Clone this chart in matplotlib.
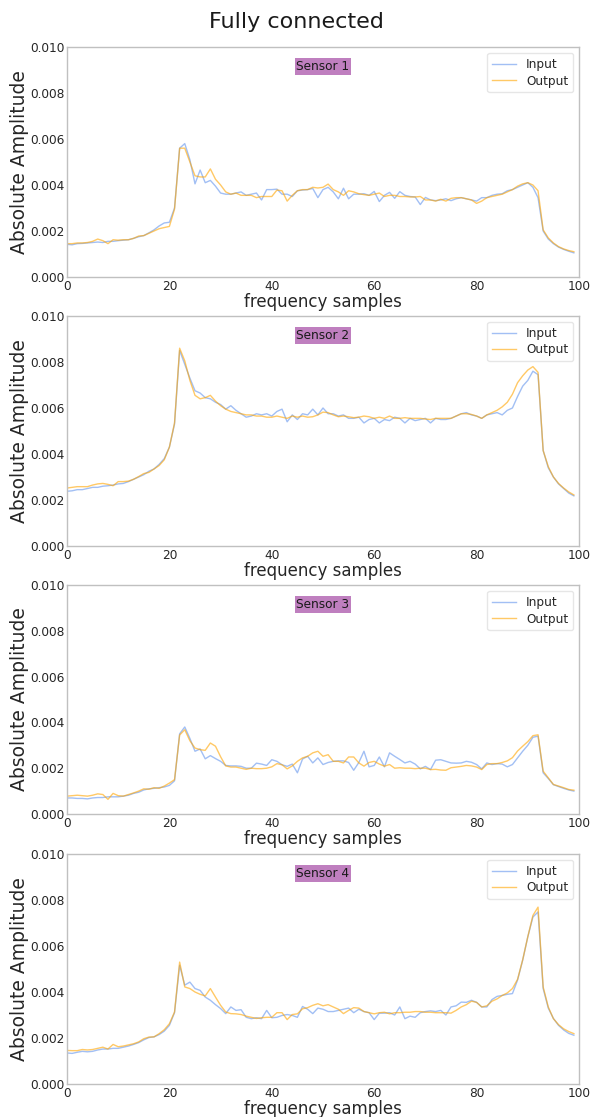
import numpy as np
import matplotlib
matplotlib.use("Agg")
import matplotlib.pyplot as plt

samples = list(range(100))
sensor_names = ["Sensor 1", "Sensor 2", "Sensor 3", "Sensor 4"]
legend_labels = ["Input", "Output"]
title_text = "Fully connected"
xticks = [0, 20, 40, 60, 80, 100]
yticks = [0.000, 0.002, 0.004, 0.006, 0.008, 0.010]

# values in units of 1e-3
s1_in = [1.42,1.40,1.45,1.46,1.48,1.50,1.52,1.50,1.55,1.55,
         1.58,1.60,1.62,1.68,1.75,1.80,1.92,2.05,2.22,2.35,
         2.38,3.00,5.60,5.80,5.10,4.05,4.65,4.10,4.20,3.95,
         3.65,3.60,3.60,3.65,3.70,3.55,3.60,3.65,3.35,3.80,
         3.80,3.82,3.60,3.60,3.50,3.75,3.78,3.80,3.85,3.45,
         3.80,3.90,3.70,3.40,3.86,3.40,3.60,3.60,3.62,3.55,
         3.72,3.28,3.55,3.68,3.42,3.71,3.55,3.50,3.48,3.15,
         3.46,3.35,3.32,3.35,3.40,3.32,3.40,3.45,3.40,3.35,
         3.30,3.45,3.45,3.55,3.60,3.62,3.75,3.80,3.90,4.00,
         4.10,3.90,3.45,2.00,1.65,1.45,1.30,1.20,1.12,1.05]
s1_out = [1.45,1.45,1.48,1.48,1.50,1.55,1.65,1.58,1.45,1.62,
          1.60,1.62,1.62,1.68,1.78,1.80,1.90,2.00,2.10,2.15,
          2.20,2.95,5.60,5.60,5.00,4.40,4.35,4.35,4.70,4.25,
          4.00,3.70,3.60,3.65,3.55,3.55,3.55,3.45,3.50,3.50,
          3.50,3.78,3.75,3.30,3.55,3.75,3.80,3.80,3.90,3.87,
          3.90,4.04,3.80,3.70,3.55,3.75,3.70,3.62,3.58,3.55,
          3.60,3.65,3.50,3.55,3.55,3.50,3.50,3.48,3.48,3.50,
          3.35,3.35,3.30,3.38,3.30,3.42,3.45,3.45,3.40,3.35,
          3.20,3.30,3.45,3.50,3.55,3.60,3.70,3.80,3.95,4.05,
          4.10,4.00,3.75,2.05,1.70,1.48,1.32,1.22,1.15,1.10]

s2_in = [2.38,2.40,2.45,2.45,2.50,2.55,2.55,2.60,2.62,2.65,
         2.70,2.72,2.80,2.90,3.00,3.10,3.25,3.35,3.55,3.80,
         4.30,5.30,8.50,7.90,7.30,6.75,6.65,6.45,6.40,6.25,
         6.15,5.95,6.10,5.90,5.75,5.60,5.65,5.75,5.70,5.75,
         5.65,5.85,5.95,5.40,5.70,5.50,5.75,5.70,5.95,5.70,
         6.00,5.75,5.75,5.65,5.70,5.55,5.55,5.60,5.35,5.50,
         5.55,5.35,5.50,5.45,5.60,5.55,5.35,5.55,5.45,5.50,
         5.55,5.35,5.55,5.50,5.50,5.55,5.65,5.75,5.80,5.70,
         5.65,5.55,5.70,5.75,5.80,5.70,5.90,6.00,6.50,6.95,
         7.20,7.60,7.45,4.15,3.40,3.00,2.70,2.50,2.30,2.18]
s2_out = [2.52,2.55,2.58,2.58,2.58,2.65,2.70,2.72,2.68,2.62,
          2.80,2.80,2.82,2.90,3.02,3.15,3.20,3.35,3.50,3.75,
          4.30,5.35,8.60,8.05,7.20,6.55,6.40,6.45,6.55,6.30,
          6.10,5.95,5.85,5.80,5.75,5.70,5.70,5.65,5.65,5.60,
          5.60,5.65,5.60,5.55,5.65,5.60,5.65,5.60,5.62,5.70,
          5.82,5.80,5.70,5.62,5.65,5.62,5.58,5.60,5.65,5.62,
          5.55,5.60,5.55,5.65,5.55,5.55,5.58,5.55,5.55,5.55,
          5.52,5.50,5.55,5.55,5.55,5.55,5.65,5.75,5.75,5.72,
          5.65,5.55,5.70,5.80,5.90,6.05,6.25,6.60,7.10,7.40,
          7.65,7.80,7.55,4.15,3.45,3.00,2.72,2.52,2.35,2.22]

s3_in = [0.70,0.70,0.68,0.68,0.66,0.70,0.72,0.72,0.75,0.75,
         0.75,0.78,0.82,0.90,0.95,1.05,1.10,1.12,1.15,1.18,
         1.25,1.45,3.50,3.80,3.30,2.74,2.84,2.41,2.55,2.42,
         2.30,2.12,2.10,2.10,2.08,2.00,2.00,2.22,2.18,2.12,
         2.37,2.30,2.15,2.08,2.18,1.80,2.40,2.52,2.23,2.45,
         2.16,2.25,2.30,2.32,2.32,2.25,1.91,2.25,2.74,2.06,
         2.12,2.49,2.06,2.67,2.52,2.38,2.23,2.30,2.18,1.97,
         2.08,1.94,2.35,2.37,2.30,2.23,2.22,2.23,2.30,2.26,
         2.16,1.97,2.23,2.16,2.20,2.18,2.06,2.16,2.45,2.74,
         3.00,3.35,3.40,1.80,1.55,1.28,1.20,1.12,1.05,1.00]
s3_out = [0.78,0.80,0.82,0.80,0.78,0.82,0.88,0.85,0.64,0.90,
          0.80,0.78,0.85,0.92,1.00,1.10,1.08,1.15,1.12,1.22,
          1.35,1.50,3.45,3.68,3.20,2.88,2.81,2.78,3.10,2.96,
          2.50,2.10,2.05,2.05,2.00,1.95,2.00,1.98,1.98,2.00,
          2.06,2.20,2.15,1.97,2.10,2.30,2.45,2.52,2.67,2.74,
          2.52,2.59,2.30,2.30,2.23,2.49,2.49,2.23,2.09,2.25,
          2.30,2.18,2.09,2.16,2.00,2.02,2.00,2.00,1.98,2.00,
          2.00,1.94,1.95,1.92,1.91,2.02,2.05,2.08,2.12,2.10,
          2.05,1.94,2.16,2.20,2.20,2.25,2.32,2.46,2.75,2.96,
          3.16,3.42,3.46,1.87,1.58,1.29,1.22,1.15,1.07,1.04]

s4_in = [1.35,1.33,1.38,1.42,1.40,1.42,1.48,1.52,1.52,1.55,
         1.55,1.60,1.65,1.72,1.80,1.92,2.02,2.05,2.15,2.30,
         2.55,3.10,5.16,4.30,4.43,4.15,4.07,3.78,3.64,3.45,
         3.28,3.06,3.35,3.20,3.23,2.90,2.84,2.88,2.84,3.20,
         2.88,2.90,2.98,3.02,2.98,2.90,3.37,3.25,3.06,3.30,
         3.25,3.15,3.15,3.20,3.25,3.30,3.10,3.25,3.15,3.10,
         2.80,3.08,3.08,3.10,3.00,3.35,2.84,2.95,2.90,3.10,
         3.15,3.18,3.15,3.20,3.00,3.35,3.40,3.56,3.55,3.64,
         3.55,3.35,3.35,3.67,3.81,3.85,3.90,3.93,4.52,5.38,
         6.40,7.26,7.48,4.15,3.30,2.85,2.55,2.35,2.20,2.12]
s4_out = [1.46,1.45,1.45,1.50,1.48,1.50,1.55,1.60,1.52,1.72,
          1.62,1.65,1.70,1.75,1.83,1.97,2.04,2.05,2.19,2.36,
          2.62,3.13,5.30,4.22,4.15,4.00,3.90,3.83,4.15,3.78,
          3.42,3.13,3.06,3.05,3.02,2.95,2.90,2.85,2.88,2.90,
          2.90,3.10,3.10,2.80,3.02,3.05,3.27,3.32,3.42,3.49,
          3.40,3.45,3.35,3.25,3.06,3.20,3.32,3.30,3.15,3.10,
          3.05,3.10,3.12,3.05,3.10,3.10,3.12,3.12,3.15,3.15,
          3.12,3.12,3.10,3.10,3.10,3.08,3.20,3.35,3.45,3.60,
          3.55,3.35,3.40,3.60,3.70,3.85,3.96,4.15,4.55,5.40,
          6.40,7.33,7.69,4.22,3.35,2.84,2.58,2.40,2.28,2.19]

inputs = [s1_in, s2_in, s3_in, s4_in]
outputs = [s1_out, s2_out, s3_out, s4_out]

fig = plt.figure(figsize=(5.93, 11.17), dpi=100)
fig.text(0.5, 0.980, title_text, ha="center", va="center", fontsize=16, color="#1a1a1a")

left = 67 / 593
width = (579 - 67) / 593
tops = [47, 316, 585, 854]
bottoms = [277, 546, 814, 1084]
spine_col = "#c0c0c0"
text_col = "#262626"

for k in range(4):
    b = 1 - bottoms[k] / 1117
    h = (bottoms[k] - tops[k]) / 1117
    ax = fig.add_axes([left, b, width, h])
    ax.plot(samples, np.array(inputs[k]) * 1e-3, color="cornflowerblue", alpha=0.6,
            lw=1.0, label=legend_labels[0])
    ax.plot(samples, np.array(outputs[k]) * 1e-3, color="orange", alpha=0.6,
            lw=1.0, label=legend_labels[1])
    ax.set_xlim(0, 100)
    ax.set_ylim(0, 0.010)
    ax.set_xticks(xticks)
    ax.set_yticks(yticks)
    ax.set_yticklabels([f"{v:.3f}" for v in yticks])
    for s in ax.spines.values():
        s.set_color(spine_col)
        s.set_linewidth(1.0)
    ax.tick_params(axis="y", labelsize=8.7, colors=spine_col, labelcolor=text_col,
                   length=0, pad=1.5)
    ax.tick_params(axis="x", labelsize=8.7, colors=spine_col, labelcolor=text_col,
                   length=0, pad=2.5)
    ax.set_xlabel("frequency samples", fontsize=12, color=text_col, labelpad=0)
    ax.set_ylabel("Absolute Amplitude", fontsize=13.5, color=text_col, labelpad=1)
    ax.text(0.5, 0.915, sensor_names[k], transform=ax.transAxes, ha="center", va="center",
            fontsize=8.7, color="#1a1a1a",
            bbox=dict(boxstyle="square,pad=0.15", facecolor="purple", alpha=0.5,
                      edgecolor="none"))
    leg = ax.legend(loc="upper right", fontsize=8.7, frameon=True, fancybox=True,
                    borderpad=0.4, labelspacing=0.3, handlelength=2.0)
    leg.get_frame().set_edgecolor("#e0e0e0")
    for t in leg.get_texts():
        t.set_color(text_col)

fig.savefig("out.png", dpi=100)
